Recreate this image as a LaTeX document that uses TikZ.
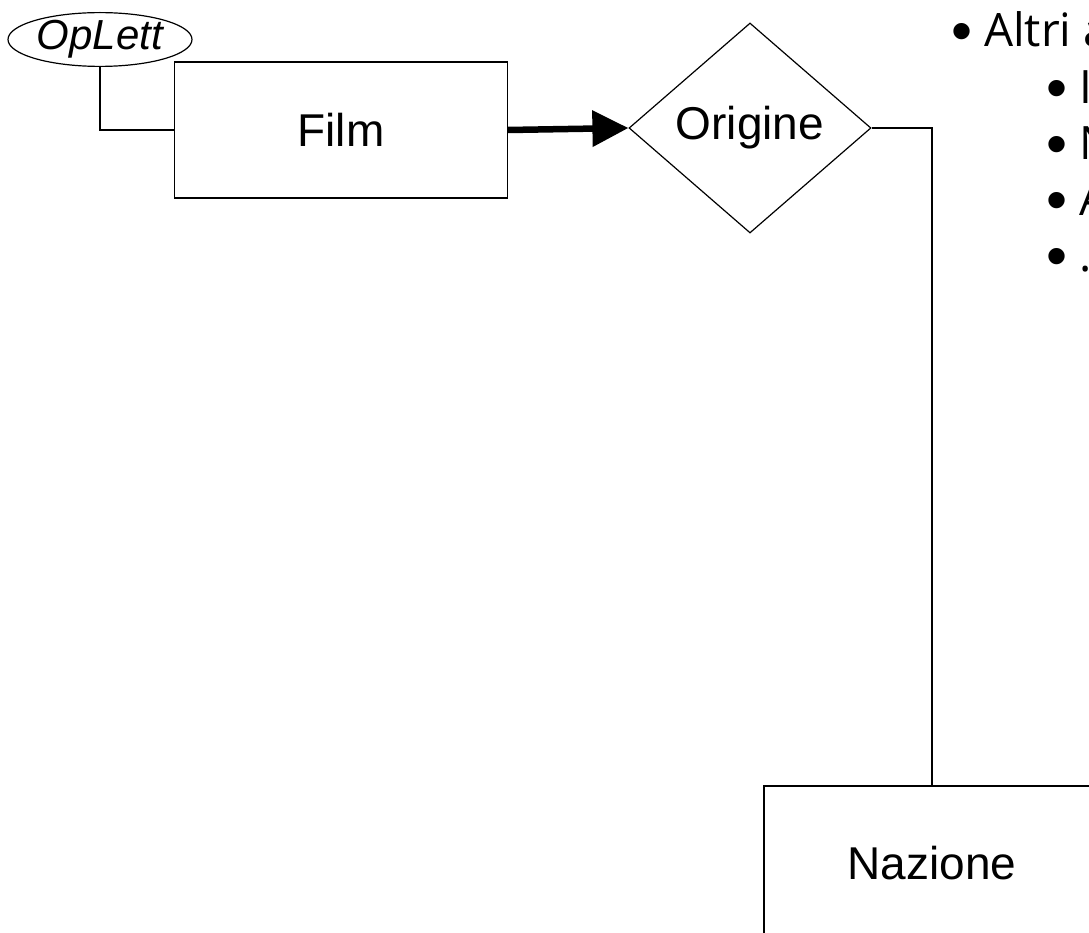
\documentclass[tikz,border=0pt]{standalone}
\usepackage{fontspec}
\setmainfont{Liberation Sans}
\newfontfamily\listfont{Open Sans}
\usetikzlibrary{shapes.geometric,arrows.meta}
\newcommand{\pallino}{\raisebox{-5pt}{\normalfont\fontsize{60}{60}\selectfont •}}
\tikzset{entita/.style={draw,line width=1.2pt,rectangle,inner sep=0pt,font=\fontsize{46}{55}\selectfont},
  relaz/.style={draw,line width=1.2pt,diamond,inner sep=0pt,minimum width=242pt,minimum height=210pt,font=\fontsize{46}{55}\selectfont},
  attrib/.style={draw,line width=1.2pt,ellipse,inner sep=0pt,minimum width=184pt,minimum height=53pt,font=\fontsize{42}{50}\selectfont\itshape},
  elink/.style={line width=1.2pt},
  efreccia/.style={line width=6.5pt,-{Triangle[length=36pt,width=35pt]}},
  voce/.style={anchor=base west,inner sep=0pt,font=\listfont\fontsize{46}{55}\selectfont}}

\begin{document}
\begin{tikzpicture}[x=1pt,y=-1pt]
    \useasboundingbox (0,0) rectangle (1089,933);
    \clip (0,0) rectangle (1089,933);
    \node[entita,minimum width=333pt,minimum height=136pt] (film) at (341,130) {Film};
    \node[attrib] (oplett) at (100,39.5) {OpLett};
    \node[relaz] (origine) at (750,128) {Origine};
    \node[entita,minimum width=336pt,minimum height=154pt] (nazione) at (932,863) {Nazione};
    \draw[elink] (oplett.south) |- (film.west);
    \draw[efreccia] (film.east) -- (origine.west);
    \draw[elink] (origine.east) -| (nazione.north);
    \node[voce] (altri) at (951,47) {\pallino{} Altri a};
    \node[voce] (voce1) at (1046,104) {\pallino{} I};
    \node[voce] (voce2) at (1046,160) {\pallino{} N};
    \node[voce] (voce3) at (1046,216) {\pallino{} A};
    \node[voce] (voce4) at (1046,272) {\pallino{} .};
\end{tikzpicture}
\end{document}
